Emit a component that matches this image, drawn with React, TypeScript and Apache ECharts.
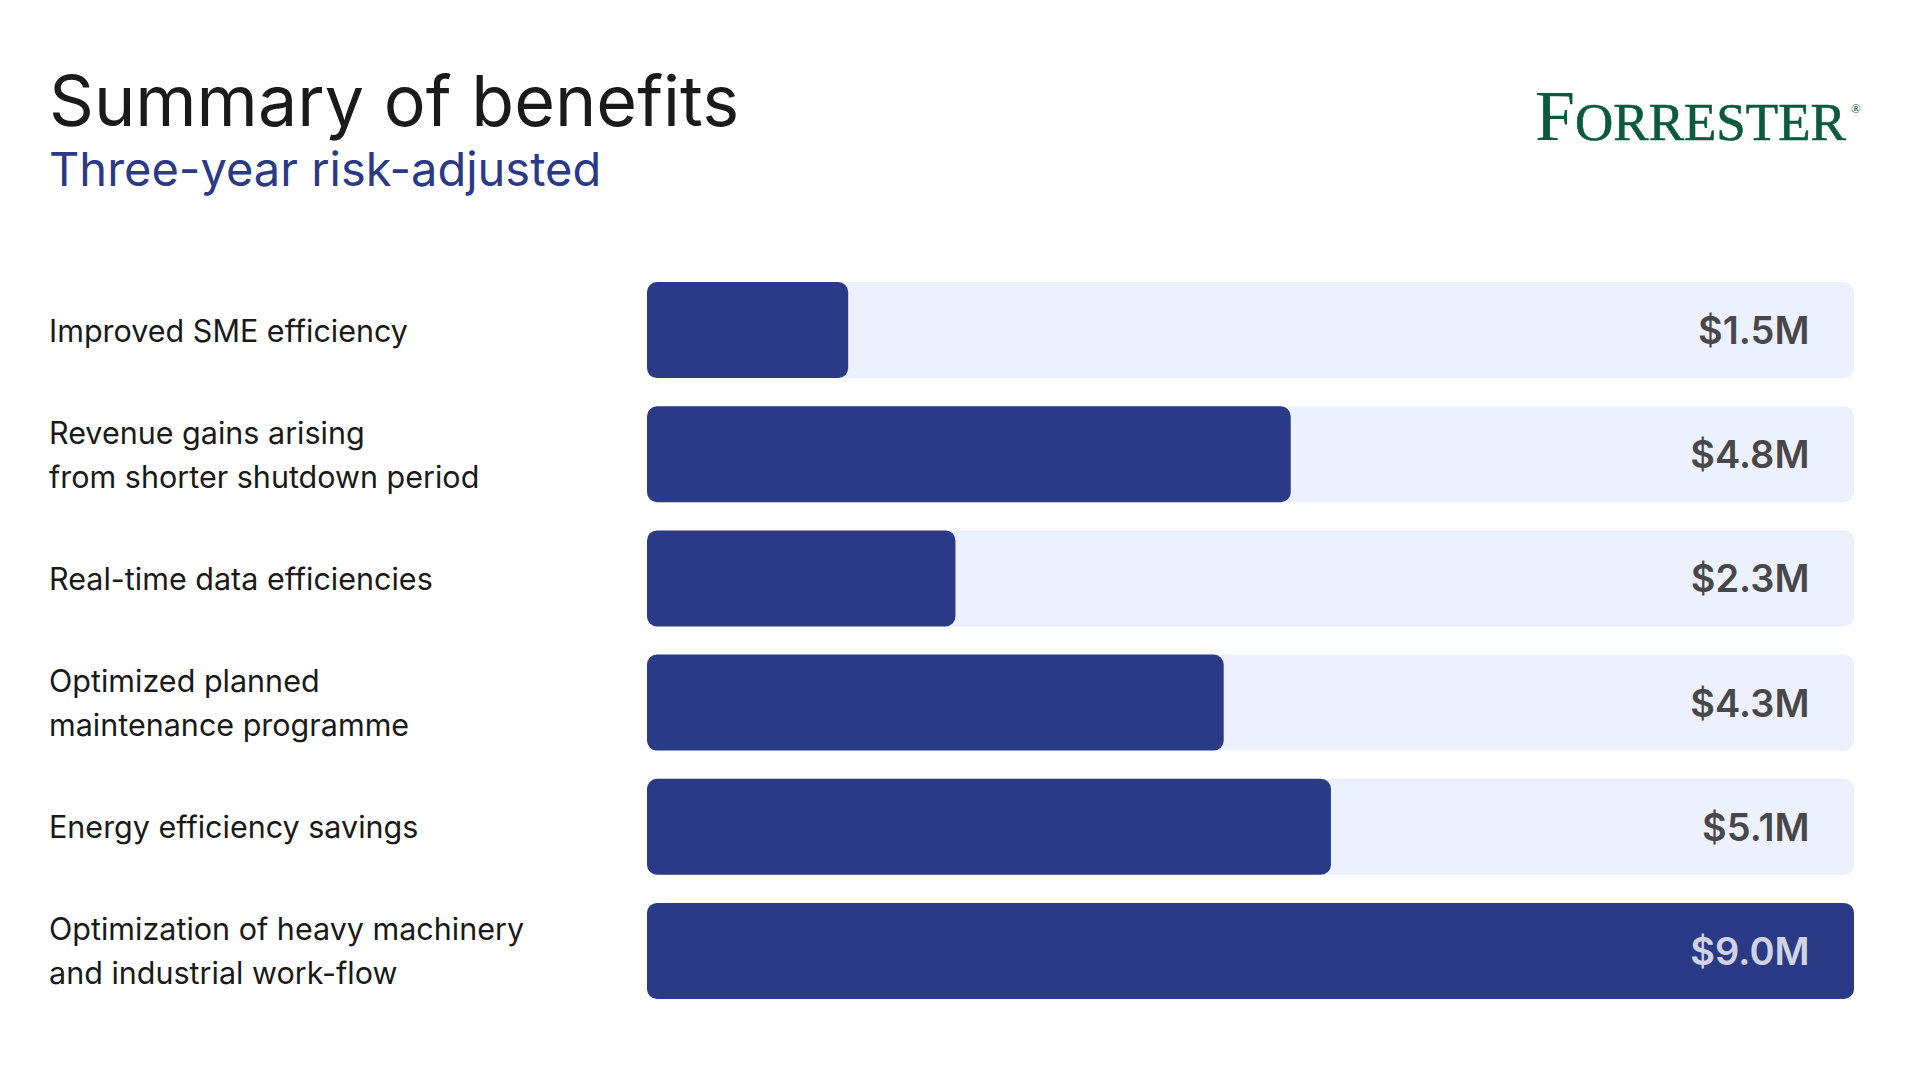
import React, { useEffect, useRef } from "react";
import * as echarts from "echarts";

const categories = [
  "Improved SME efficiency",
  "Revenue gains arising\nfrom shorter shutdown period",
  "Real-time data efficiencies",
  "Optimized planned\nmaintenance programme",
  "Energy efficiency savings",
  "Optimization of heavy machinery\nand industrial work-flow",
];
const values = [1.5, 4.8, 2.3, 4.3, 5.1, 9.0];
const axisMax = 9.0;

const TITLE = "Summary of benefits";
const SUBTITLE = "Three-year risk-adjusted";

const DARK = "#2B3A87";
const TRACK = "#EDF0FD";
const TEXT = "#1a1a1a";
const GREEN = "#0A5A3C";
const FONT = "Inter, 'Noto Sans', sans-serif";
const SERIF = "'Liberation Serif', 'DejaVu Serif', serif";

export default function App() {
  const ref = useRef<HTMLDivElement>(null);
  useEffect(() => {
    if (!ref.current) return;
    const chart = echarts.init(ref.current, undefined, { renderer: "svg" });
    chart.setOption({
      animation: false,
      backgroundColor: "#ffffff",
      grid: { left: 647, right: 66, top: 268, bottom: 67, containLabel: false },
      xAxis: {
        type: "value",
        min: 0,
        max: axisMax,
        show: false,
      },
      yAxis: {
        type: "category",
        data: categories,
        inverse: true,
        axisLine: { show: false },
        axisTick: { show: false },
        splitLine: { show: false },
        axisLabel: {
          align: "left",
          margin: 598,
          fontFamily: FONT,
          fontSize: 30.5,
          lineHeight: 44,
          color: TEXT,
        },
      },
      series: [
        {
          type: "bar",
          data: values,
          barWidth: 96,
          itemStyle: { color: DARK, borderRadius: 10 },
          showBackground: true,
          backgroundStyle: { color: TRACK, borderRadius: 10 },
          z: 2,
        },
        {
          type: "scatter",
          data: values.map((v, i) => ({
            value: [axisMax, categories[i]],
            label: { color: v >= axisMax ? "#ffffff" : TEXT },
          })),
          symbolSize: 1,
          itemStyle: { color: "rgba(0,0,0,0)" },
          z: 5,
          label: {
            show: true,
            position: "left",
            distance: 44,
            fontFamily: FONT,
            fontSize: 38,
            fontWeight: 600,
            formatter: (p: any) => `$${values[p.dataIndex].toFixed(1)}M`,
          },
        },
      ],
      graphic: [
        {
          type: "text",
          left: 49,
          top: 100 - 35,
          style: {
            text: TITLE,
            fontFamily: FONT,
            fontSize: 70,
            fill: TEXT,
          },
        },
        {
          type: "text",
          left: 49,
          top: 168 - 23.5,
          style: {
            text: SUBTITLE,
            fontFamily: FONT,
            fontSize: 47,
            fill: DARK,
          },
        },
        {
          type: "text",
          x: 1535,
          y: 140 - 0.34 * 72,
          style: {
            text: "F",
            fontFamily: SERIF,
            fontSize: 72,
            fill: GREEN,
            verticalAlign: "middle",
            align: "left",
          },
        },
        {
          type: "text",
          x: 1575,
          y: 140 - 0.34 * 53,
          style: {
            text: "ORRESTER",
            fontFamily: SERIF,
            fontSize: 53,
            fill: GREEN,
            stroke: GREEN,
            lineWidth: 0.6,
            verticalAlign: "middle",
            align: "left",
          },
        },
        {
          type: "text",
          x: 1851,
          y: 108,
          style: {
            text: "®",
            fontFamily: SERIF,
            fontSize: 13,
            fill: GREEN,
            verticalAlign: "middle",
            align: "left",
          },
        },
      ],
    });
    return () => chart.dispose();
  }, []);
  return (
    <div
      ref={ref}
      style={{ position: "fixed", left: 0, top: 0, width: 1920, height: 1080 }}
    />
  );
}
